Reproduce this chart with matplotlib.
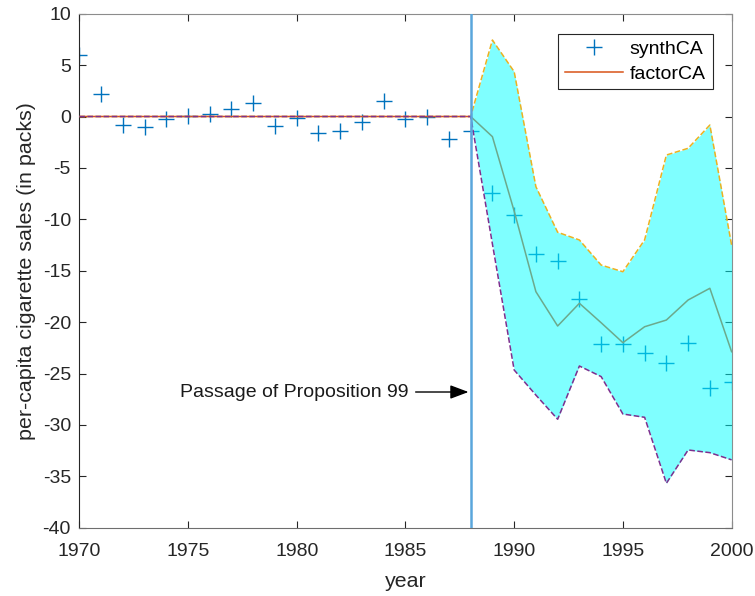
import numpy as np
import matplotlib
matplotlib.use('Agg')
from matplotlib import pyplot as plt

plt.rcParams['font.family'] = ['Liberation Sans', 'DejaVu Sans']
plt.rcParams['axes.unicode_minus'] = False

years = np.arange(1970, 2001)

# synthetic control gap (markers)
synthCA = [5.98, 2.16, -0.80, -1.05, -0.24, 0.02, 0.21, 0.76, 1.28, -0.92,
           -0.18, -1.58, -1.44, -0.54, 1.51, -0.27, -0.08, -2.16, -1.38,
           -7.47, -9.58, -13.4, -14.03, -17.8, -22.13, -22.13, -23.04, -23.95,
           -22.0, -26.4, -25.8]

# factor model estimate and its band
factorCA = [0] * 18 + [0, -1.96, -9.2, -17.04, -20.38, -18.17, -20.06, -22.0,
                       -20.45, -19.8, -17.85, -16.71, -22.88]
upperCA = [0] * 18 + [0, 7.44, 4.36, -6.83, -11.26, -12.01, -14.45, -15.1,
                      -12.0, -3.75, -3.09, -0.83, -12.5]
lowerCA = [0] * 18 + [0, -12.4, -24.66, -27.1, -29.45, -24.27, -25.3, -28.94,
                      -29.26, -35.68, -32.44, -32.7, -33.4]

treat_year = 1988

fig = plt.figure(figsize=(7.55, 5.96), dpi=100)
ax = fig.add_axes([0.105, 0.1146, 0.864, 0.8624])

blue = (0, 0.447, 0.741)
orange = (0.85, 0.325, 0.098)
yellow = (0.929, 0.694, 0.125)
purple = (0.494, 0.184, 0.556)

ax.plot(years, synthCA, '+', color=blue, markersize=11, markeredgewidth=1.0,
        label='synthCA', zorder=2)
ax.plot(years, factorCA, '-', color=orange, lw=1.1, label='factorCA', zorder=2)
ax.plot(years, upperCA, '--', color=yellow, lw=1.1, zorder=4)
ax.plot(years, lowerCA, '--', color=purple, lw=1.1, zorder=4)

post = years >= treat_year
ax.fill_between(years[post], np.asarray(lowerCA)[post], np.asarray(upperCA)[post],
                color='cyan', alpha=0.5, lw=0, zorder=3)

ax.axvline(treat_year, color='#5aa6dc', lw=1.8, zorder=5)

ax.annotate('Passage of Proposition 99', xy=(1987.9, -26.8), xytext=(1985.15, -26.8),
            ha='right', va='center', fontsize=14, color='#1a1a1a',
            arrowprops=dict(arrowstyle='-|>,head_length=0.8,head_width=0.3',
                            color='k', lw=1.0, shrinkA=3, shrinkB=0))

ax.set_xlim(1970, 2000)
ax.set_ylim(-40, 10)
ax.set_xticks(np.arange(1970, 2001, 5))
ax.set_yticks(np.arange(-40, 11, 5))
ax.tick_params(direction='in', top=True, right=True, length=5, labelsize=14,
               colors='#262626')
ax.tick_params(axis='x', pad=11)
ax.tick_params(axis='y', pad=6)
for side in ['top', 'right']:
    ax.spines[side].set_color('#8c8c8c')
ax.spines['left'].set_color('#262626')
ax.spines['bottom'].set_color('#6e6e6e')

ax.set_xlabel('year', fontsize=15.4, color='#262626', labelpad=9)
ax.set_ylabel('per-capita cigarette sales (in packs)', fontsize=15.4,
              color='#262626', labelpad=4.5)

leg = ax.legend(loc='upper right', bbox_to_anchor=(0.971, 0.961), borderaxespad=0,
                fontsize=14, fancybox=False, framealpha=1, edgecolor='#262626',
                handlelength=3.0, handletextpad=0.35, borderpad=0.35,
                labelspacing=0.35)
leg.get_frame().set_linewidth(0.8)

plt.savefig('out.png', dpi=100)
